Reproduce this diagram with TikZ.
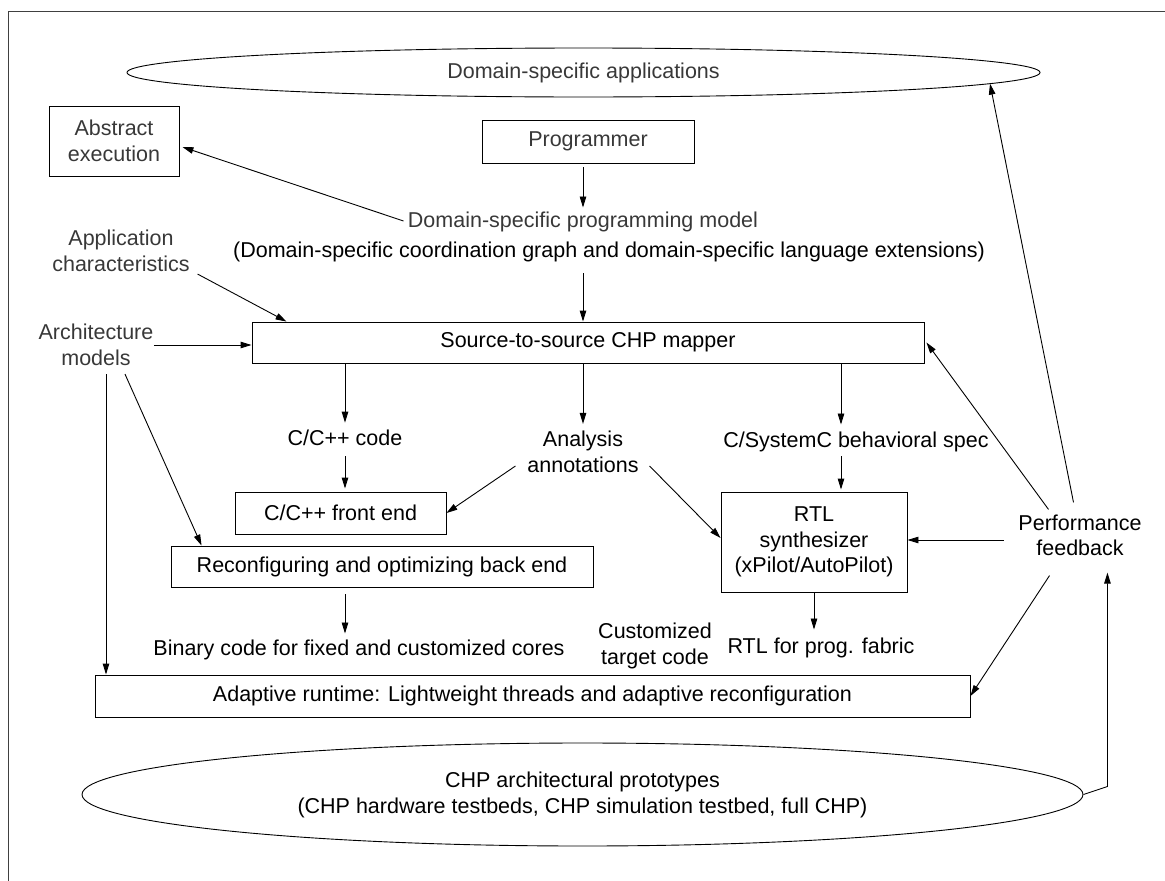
\documentclass[tikz,border=0pt]{standalone}
\usepackage{fontspec}
\setmainfont{Liberation Sans}
\usetikzlibrary{arrows.meta,shapes.geometric,calc}
\begin{document}
\begin{tikzpicture}[x=1pt,y=-1pt,line width=0.9pt,
  arr/.style={-{Triangle[length=11pt,width=6.5pt]}},
  txt/.style={inner sep=0pt,align=center,font=\fontsize{21.5}{25.5}\selectfont},
  light/.style={text=black!78},
  box/.style={draw,rectangle,inner sep=0pt,txt},
  oval/.style={draw,ellipse,inner sep=0pt,txt}]
\useasboundingbox (0,0) rectangle (1165,881);
% frame
\draw[black!75,line width=1pt] (8,881) -- (8,11) -- (1165,11);
% nodes
\node[oval,light,minimum width=913pt,minimum height=49pt] (apps) at (583.5,72.5) {Domain-specific applications};
\node[box,light,minimum width=130pt,minimum height=70pt] (abs) at (114,141) {Abstract\\execution};
\node[box,light,minimum width=212pt,minimum height=43pt] (prog) at (588,141.5) {Programmer};
\node[txt,light] (dspm) at (583,222) {Domain-specific programming model};
\node[txt] (ext) at (609,252) {(Domain-specific coordination graph and domain-specific language extensions)};
\node[txt,light] (appc) at (121,251) {Application\\characteristics};
\node[txt,light] (arch) at (96,345) {Architecture\\models};
\node[box,minimum width=672pt,minimum height=41pt] (map) at (588,342.5) {Source-to-source CHP mapper};
\node[txt] (cpp) at (345,438) {C/C++ code};
\node[txt] (anno) at (583,452) {Analysis\\annotations};
\node[txt] (sysc) at (856,442) {C/SystemC behavioral spec};
\node[box,minimum width=211pt,minimum height=42pt] (fe) at (340.5,513) {C/C++ front end};
\node[box,minimum width=422pt,minimum height=41pt] (be) at (382,566.5) {Reconfiguring and optimizing back end};
\node[box,minimum width=186pt,minimum height=100pt] (rtl) at (814,542) {RTL\\synthesizer\\(xPilot/AutoPilot)};
\node[txt] (perf) at (1080,535.5) {Performance\\feedback};
\node[txt] (bin) at (359,650) {Binary code for fixed and customized cores};
\node[txt] (cust) at (655,646) {Customized\\target code};
\node[txt] (fab) at (821,648) {RTL for prog. fabric};
\node[box,minimum width=875pt,minimum height=42pt] (ada) at (532.5,696) {Adaptive runtime: Lightweight threads and adaptive reconfiguration};
\node[oval,minimum width=1001pt,minimum height=103pt,font=\fontsize{21.5}{26}\selectfont] (proto) at (582.5,794.5) {CHP architectural prototypes\\(CHP hardware testbeds, CHP simulation testbed, full CHP)};
% helper coordinates
\path ($(sysc.north)+(-15,-7)$) coordinate (s1);
\path ($(sysc.south)+(-15,4)$) coordinate (s2);
\path ($(cpp.south)+(0,10)$) coordinate (c1);
\path ($(be.south)+(-37,7)$) coordinate (b1);
\path ($(perf.west)+(-14.5,4.5)$) coordinate (p1);
\path ($(arch.south)+(10,8)$) coordinate (a1);
\path ($(proto.east)+(24,-8)$) coordinate (q1);
\path ($(perf.south)+(0,16)$) coordinate (q2);
% connectors
\draw[arr] ($(prog.south)+(-5,4)$) -- ($(dspm.north)+(0,-4)$);
\draw[arr] ($(dspm.west)+(-4,-1)$) -- ($(abs.east)+(3,6)$);
\draw[arr] ($(ext.south)+(-26,11)$) -- ($(map.north)+(-5,0)$);
\draw[arr] ($(appc.south east)+(7.5,2)$) -- ($(map.north west)+(35,0)$);
\draw[arr] (arch.east) -- (arch.east -| map.west);
\draw[arr] (a1) -- (a1 |- ada.north);
\draw[arr] ($(arch.south)+(29,8)$) -- ($(be.north west)+(31,0)$);
\draw[arr] (cpp.north |- map.south) -- ($(cpp.north)+(0,-7)$);
\draw[arr] (anno.north |- map.south) -- ($(anno.north)+(0,-7)$);
\draw[arr] (s1 |- map.south) -- (s1);
\draw[arr] (c1) -- ($(c1 |- fe.north)+(0,-3)$);
\draw[arr] (s2) -- ($(s2 |- rtl.north)+(0,-2)$);
\draw[arr] ($(anno.west)+(-11.5,14)$) -- (fe.east);
\draw[arr] ($(anno.east)+(10.5,14)$) -- ($(rtl.west)+(0,-4)$);
\draw[arr] (b1) -- ($(b1 |- bin.north)+(0,-6)$);
\draw[arr] (rtl.south) -- ($(rtl.south |- fab.north)+(0,-8)$);
\draw[arr] (p1) -- (p1 -| rtl.east);
\draw[arr] ($(perf.north west)+(30.5,-5)$) -- ($(map.east)+(2,0)$);
\draw[arr] ($(perf.north west)+(55.5,-12)$) -- ($(apps.center)+(406.5,11.1)$);
\draw[arr] ($(perf.south west)+(31.5,19)$) -- (ada.east);
\draw[arr] (proto.east) -- (q1) -- (q1 |- q2);
\end{tikzpicture}
\end{document}
